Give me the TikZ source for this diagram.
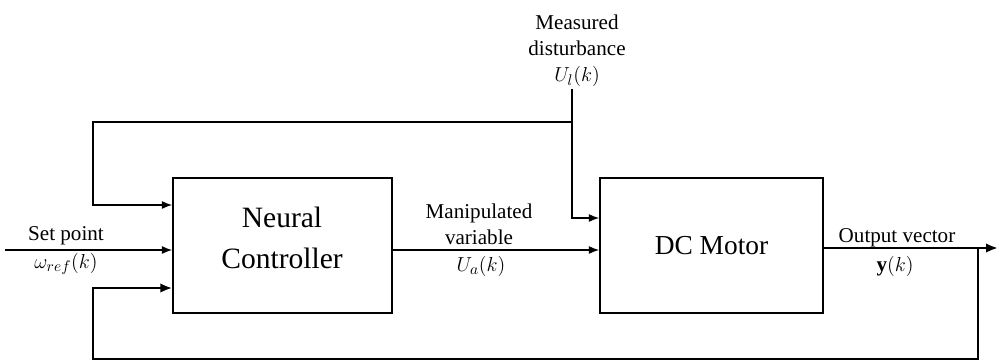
\documentclass[tikz,border=0pt]{standalone}
\usepackage{amsmath}
\usepackage{fontspec}
\setmainfont{Liberation Serif}
\usepackage{tikz}
\usetikzlibrary{positioning, arrows.meta, calc}

\begin{document}
\begin{tikzpicture}[
    x=0.025cm, y=-0.025cm,
    block/.style={
        rectangle,
        draw=black,
        line width=1pt,
        minimum height=135*0.025cm,
        align=center,
    },
    boxtext/.style={
        align=center,
        inner sep=0pt,
        font=\fontsize{21}{29}\selectfont,
    },
    lbl/.style={
        align=center,
        inner sep=1pt,
        font=\fontsize{15}{18.5}\selectfont,
    },
    link/.style={-{Latex[length=2.6mm, width=2mm]}, line width=1.1pt},
    bold/.style={-{Latex[length=3mm, width=2.4mm]}, line width=2pt},
]
\useasboundingbox (0,0) rectangle (998,362);

\node[block, minimum width=219*0.025cm] (nc) at (282.5,245.5) {};
\node[boxtext] (nct) at (282,238) {Neural\\Controller};
\node[block, minimum width=223*0.025cm, font=\fontsize{19.5}{24}\selectfont] (dcm) at (711.5,245.5) {DC Motor};

\coordinate (sp)  at (5,250);
\coordinate (out) at (998,248);
\coordinate (tap) at (572,122);
\coordinate (fb)  at (978,248);

\node[lbl] (setl)  at (66,236)   {Set point};
\node[lbl] (setv)  at (66,264)   {$\omega_{ref}(k)$};
\node[lbl] (manl)  at (479,224)  {Manipulated\\variable};
\node[lbl] (manv)  at (481,266)  {$U_a(k)$};
\node[lbl] (dist)  at (577,51)   {Measured\\disturbance\\$U_l(k)$};
\node[lbl] (outl)  at (897,238)  {Output vector};
\node[lbl] (outv)  at (895,266)  {$\mathbf{y}(k)$};

% forward path
\draw[link] (sp) -- (nc.west |- sp);
\draw[link] (nc.east |- sp) -- (dcm.west |- sp);
\draw[bold] (dcm.east |- out) -- (out);

% disturbance
\draw[link] (dist.south -| tap) -- (tap) |- ($(dcm.west)+(0,-27.5)$);
\draw[link] (tap) -| (93,205) -- (nc.west |- 0,205);

% feedback
\draw[bold] (fb) |- (93,359) |- (nc.west |- 0,288);

\end{tikzpicture}
\end{document}
